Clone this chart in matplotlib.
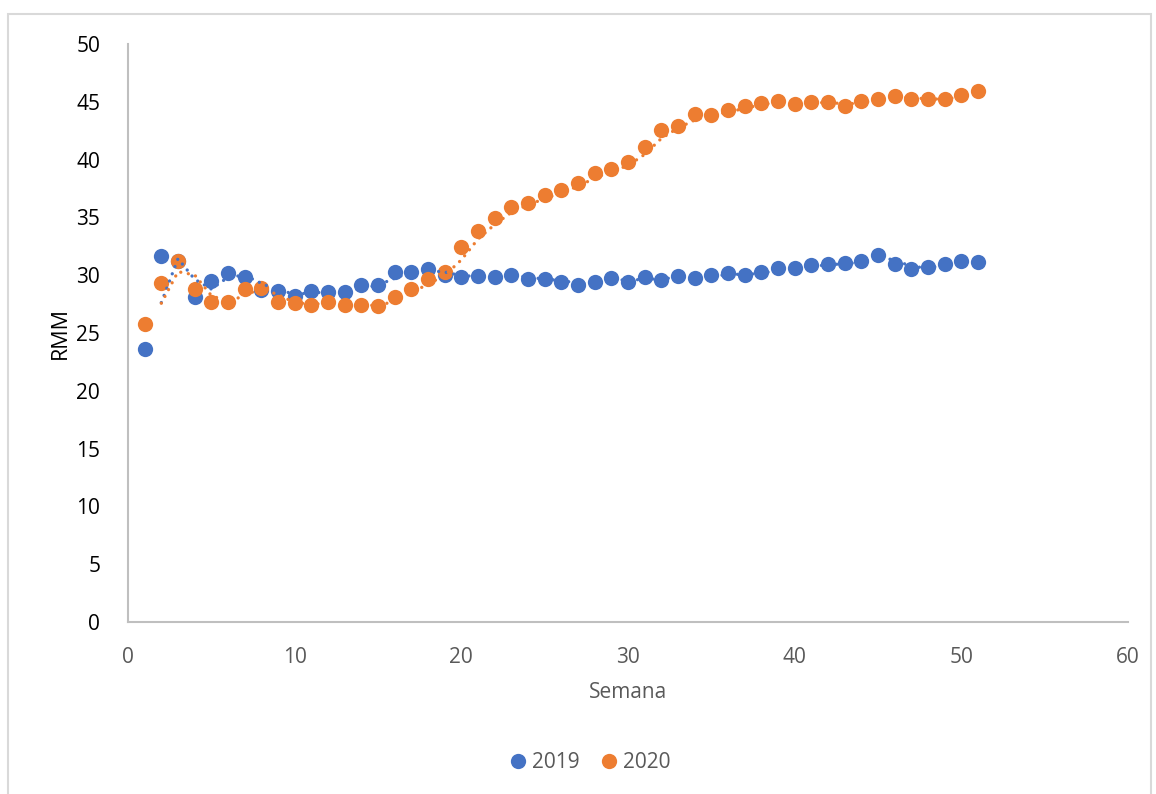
import numpy as np
import pandas as pd
import matplotlib
matplotlib.use("Agg")
import matplotlib.pyplot as plt
from matplotlib.lines import Line2D
from matplotlib.patches import Rectangle

plt.rcParams['font.family'] = ['Open Sans', 'DejaVu Sans']

# weekly values per year
semana = np.arange(1, 52)
rmm_2019 = [23.6, 31.66, 31.2, 28.1, 29.5, 30.15, 29.85, 28.75, 28.6, 28.2,
            28.65, 28.55, 28.55, 29.15, 29.15, 30.3, 30.3, 30.5, 30.05, 29.87,
            29.93, 29.87, 30.05, 29.65, 29.65, 29.45, 29.15, 29.45, 29.73, 29.44,
            29.82, 29.6, 29.93, 29.73, 30.0, 30.15, 30.0, 30.3, 30.6, 30.6,
            30.88, 30.94, 31.02, 31.22, 31.75, 30.94, 30.54, 30.74, 30.94, 31.22,
            31.12]
rmm_2020 = [25.8, 29.35, 31.26, 28.78, 27.7, 27.7, 28.8, 28.92, 27.7, 27.57,
            27.42, 27.7, 27.42, 27.42, 27.34, 28.14, 28.78, 29.7, 30.25, 32.4,
            33.85, 34.92, 35.93, 36.27, 36.94, 37.37, 38.0, 38.8, 39.16, 39.8,
            41.1, 42.56, 42.9, 43.94, 43.86, 44.3, 44.6, 44.87, 45.1, 44.8,
            44.97, 44.95, 44.67, 45.1, 45.24, 45.5, 45.24, 45.24, 45.24, 45.6,
            45.9]
series = {"2019": rmm_2019, "2020": rmm_2020}
colors = {"2019": "#4472C4", "2020": "#ED7D31"}

fig = plt.figure(figsize=(11.56, 7.94), dpi=100)
ax = fig.add_axes([128 / 1156, 172 / 794, 1000 / 1156, 578 / 794])

# chart frame
fig.patches.append(Rectangle((8 / 1156, -0.02), 1143 / 1156, (794 - 14) / 794 + 0.02,
                             transform=fig.transFigure, fill=False,
                             edgecolor="#D9D9D9", linewidth=1.5, zorder=0))

for name, vals in series.items():
    ax.plot(semana, vals, linestyle="none", marker="o", markersize=11,
            markeredgewidth=0, color=colors[name], zorder=3, label=name)

# 2-period moving average trendlines
for name, vals in series.items():
    ma = pd.Series(vals).rolling(2).mean()
    ax.plot(semana, ma, linestyle=(0, (0.01, 2.3)), dash_capstyle="round",
            linewidth=2.4, color=colors[name], zorder=4)

ax.set_xlim(0, 60)
ax.set_ylim(0, 50)
ax.set_xticks(np.arange(0, 61, 10))
ax.set_yticks(np.arange(0, 51, 5))

for side in ["top", "right"]:
    ax.spines[side].set_visible(False)
for side in ["left", "bottom"]:
    ax.spines[side].set_color("#BFBFBF")
    ax.spines[side].set_linewidth(1.5)

ax.tick_params(axis="both", length=0, labelsize=15)
ax.tick_params(axis="y", pad=20, labelcolor="#000000")
ax.tick_params(axis="x", pad=18, labelcolor="#595959")

ax.set_xlabel("Semana", fontsize=15, color="#595959", labelpad=10)
ax.set_ylabel("RMM", fontsize=15.5, color="#000000", labelpad=4)

handles = [Line2D([], [], linestyle="none", marker="o", markersize=11,
                  markeredgewidth=0, color=colors[n]) for n in series]
fig.legend(handles, list(series.keys()), loc="center", ncol=2,
           bbox_to_anchor=(588 / 1156, 1 - 763 / 794), frameon=False,
           fontsize=15, labelcolor="#595959", handletextpad=0.1,
           columnspacing=0.8, handlelength=1.2)

fig.savefig("out.png", dpi=100)
